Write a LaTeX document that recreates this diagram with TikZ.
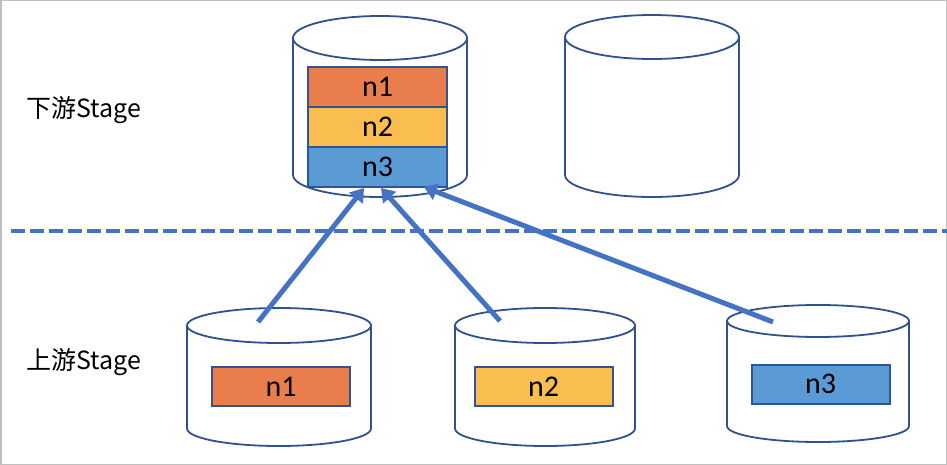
\documentclass[tikz,border=0pt]{standalone}
\usepackage{fontspec}
\setmainfont{Carlito}
\newfontfamily\cjk{Noto Sans CJK SC}
\usetikzlibrary{arrows.meta}
\definecolor{cylline}{HTML}{2F528F}
\definecolor{boxline}{HTML}{2F5597}
\definecolor{arrowblue}{HTML}{4472C4}
\definecolor{cOrange}{HTML}{E97D4B}
\definecolor{cYellow}{HTML}{FABE50}
\definecolor{cBlue}{HTML}{5B9BD5}
\definecolor{frame}{HTML}{BFBFBF}
\newcommand{\cylshape}[5]{% cx, top, bottom, rx, ry
  \fill[white] (#1-#4,#2+#5) -- (#1-#4,#3-#5) arc[start angle=180,end angle=0,x radius=#4,y radius=#5]
     -- (#1+#4,#2+#5) arc[start angle=0,end angle=-180,x radius=#4,y radius=#5] -- cycle;
  \draw[cylstroke] (#1-#4,#2+#5) -- (#1-#4,#3-#5) arc[start angle=180,end angle=0,x radius=#4,y radius=#5] -- (#1+#4,#2+#5);
  \draw[cylstroke] (#1,#2+#5) ellipse[x radius=#4,y radius=#5];
}
\tikzset{
  cylstroke/.style={draw=cylline,line width=1.8pt},
  stackbox/.style={draw=boxline,line width=2.5pt,minimum width=139pt,minimum height=40pt,inner sep=0pt,font=\fontsize{30}{32}\selectfont},
  partbox/.style={draw=boxline,line width=2pt,minimum width=138pt,minimum height=39pt,inner sep=0pt,font=\fontsize{30}{32}\selectfont},
  flow/.style={draw=arrowblue,line width=5pt,-{Triangle[length=13pt,width=17pt]}},
  divider/.style={draw=arrowblue,line width=4pt,dash pattern=on 14pt off 5pt},
  stagelabel/.style={anchor=west,inner sep=0pt,font=\cjk\fontsize{25}{28}\selectfont}
}
\begin{document}
\begin{tikzpicture}[x=1pt,y=-1pt]
\useasboundingbox (0,0) rectangle (947,465);
\draw[frame,line width=1.5pt] (0.75,0.75) rectangle (946.25,464.25);

% upstream/downstream labels
\node[stagelabel] (down) at (26,110) {下游Stage};
\node[stagelabel] (up) at (26,362) {上游Stage};

% divider
\coordinate (dl) at (11,231);
\coordinate (dr) at (947,231);
\draw[divider] (dl) -- (dr);

% top cylinders
\cylshape{380}{16}{197}{87}{22}
\cylshape{652}{15}{197}{87}{22}

% bottom cylinders
\cylshape{279}{308}{446}{92}{17.5}
\cylshape{545}{308}{446}{90}{17.5}
\cylshape{818}{305}{442}{91}{16}

% stacked boxes in the downstream cylinder
\node[stackbox,fill=cOrange] (t1) at (377.5,87) {n1};
\node[stackbox,fill=cYellow] (t2) at (377.5,127) {n2};
\node[stackbox,fill=cBlue] (t3) at (377.5,167) {n3};

% upstream boxes
\node[partbox,fill=cOrange] (b1) at (281,386.5) {n1};
\node[partbox,fill=cYellow] (b2) at (543.5,386.5) {n2};
\node[partbox,fill=cBlue] (b3) at (820.5,384) {n3};

% arrows
\coordinate (s1) at (258,322);
\coordinate (s2) at (500,321);
\coordinate (s3) at (773,322);
\coordinate (e1) at (364,188);
\coordinate (e2) at (381,188);
\coordinate (e3) at (424,187);
\draw[flow] (s1) -- (e1);
\draw[flow] (s2) -- (e2);
\draw[flow] (s3) -- (e3);
\end{tikzpicture}
\end{document}
